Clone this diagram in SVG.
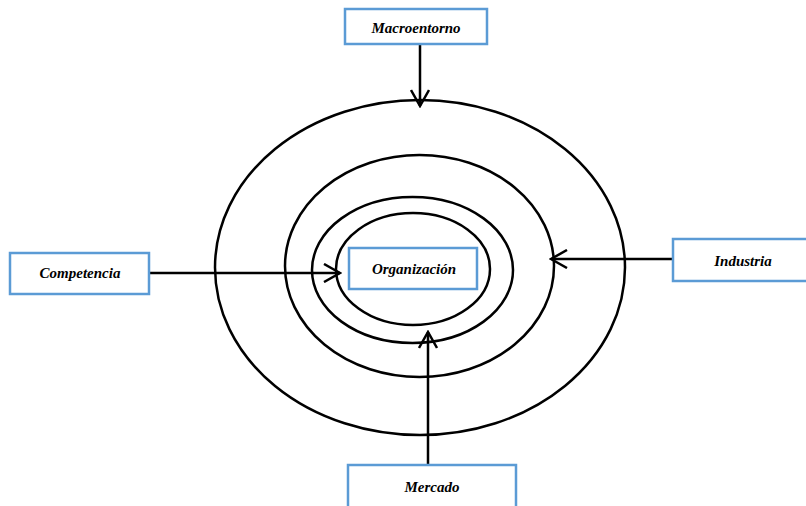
<svg xmlns="http://www.w3.org/2000/svg" width="806" height="506" viewBox="0 0 806 506">
<style>
.box{fill:#fff;stroke:#5B9BD5;stroke-width:2.5}
.lbl{font-family:"Liberation Serif","Times New Roman",serif;font-style:italic;font-weight:bold;font-size:15px;fill:#000;text-anchor:middle}
.ring{fill:none;stroke:#000;stroke-width:2.5}
.conn{fill:none;stroke:#000;stroke-width:2.5}
</style>
<defs>
<marker id="arr" viewBox="0 0 20 20" refX="18" refY="10" markerWidth="20" markerHeight="20" markerUnits="userSpaceOnUse" orient="auto">
<path d="M2,1 L18,10 L2,19" fill="none" stroke="#000" stroke-width="2.5"/>
</marker>
</defs>
<rect width="806" height="506" fill="#fff"/>
<g id="rings">
<ellipse class="ring" cx="420" cy="267.5" rx="205" ry="167.5"/>
<ellipse class="ring" cx="419.5" cy="266" rx="134.5" ry="111"/>
<ellipse class="ring" cx="412.5" cy="270" rx="100.5" ry="73"/>
<ellipse class="ring" cx="413" cy="269" rx="77" ry="56"/>
</g>
<g id="connectors">
<line class="conn" x1="420" y1="44" x2="420" y2="106" marker-end="url(#arr)"/>
<line class="conn" x1="149" y1="273" x2="340" y2="273" marker-end="url(#arr)"/>
<line class="conn" x1="673" y1="259" x2="551" y2="259" marker-end="url(#arr)"/>
<line class="conn" x1="428" y1="465" x2="428" y2="332" marker-end="url(#arr)"/>
</g>
<g id="macroentorno">
<rect class="box" x="345" y="9" width="142" height="35"/>
<text class="lbl" x="416" y="33">Macroentorno</text>
</g>
<g id="competencia">
<rect class="box" x="10" y="253" width="139" height="41"/>
<text class="lbl" x="80" y="278">Competencia</text>
</g>
<g id="organizacion">
<rect class="box" x="349" y="248" width="128" height="41"/>
<text class="lbl" x="414" y="274">Organización</text>
</g>
<g id="industria">
<rect class="box" x="673" y="239" width="140" height="42"/>
<text class="lbl" x="743" y="266">Industria</text>
</g>
<g id="mercado">
<rect class="box" x="348" y="465" width="168" height="50"/>
<text class="lbl" x="432" y="492">Mercado</text>
</g>
</svg>
